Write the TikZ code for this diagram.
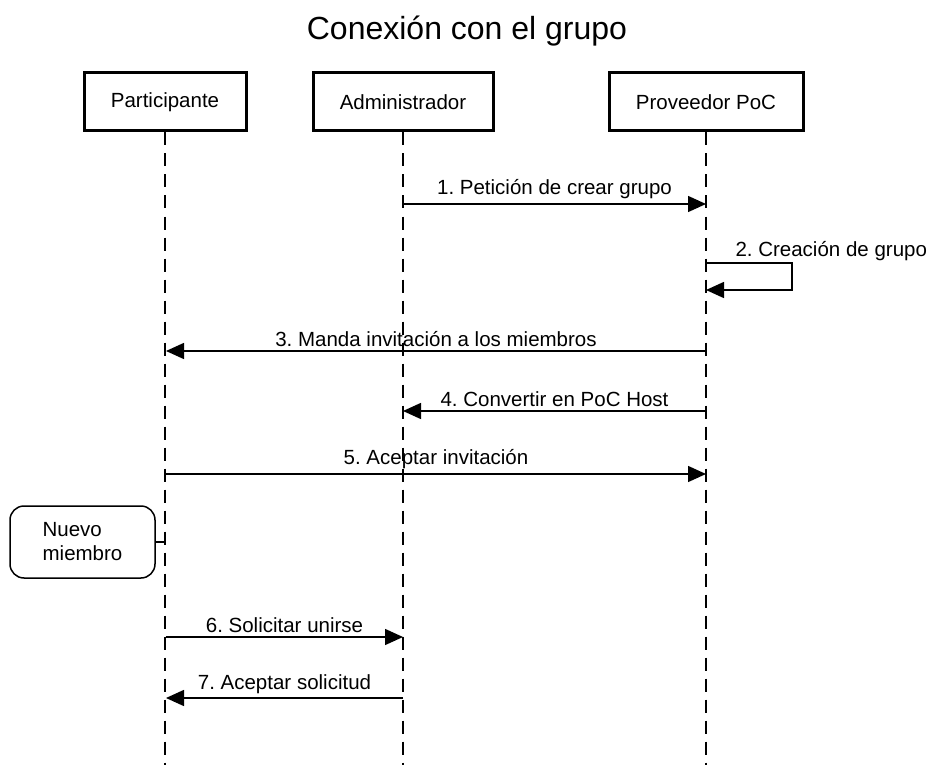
\documentclass[tikz,border=0pt]{standalone}
\usepackage{fontspec}
\setmainfont{Liberation Sans}
\usetikzlibrary{arrows.meta}
\frenchspacing
\begin{document}
\begin{tikzpicture}[x=1pt, y=-1pt, font=\fontsize{20.5}{24}\selectfont,
		actor/.style={draw, line width=3pt, minimum height=58pt, inner sep=0pt},
		life/.style={line width=1.5pt, dash pattern=on 13pt off 8pt},
		msg/.style={line width=1.5pt, -{Triangle[length=18pt,width=16pt]}},
		lbl/.style={above, inner sep=4pt}]
		\useasboundingbox (0,0) rectangle (935,765);
		%title
		\node (title) at (467,31) {\fontsize{32}{38}\selectfont Conexión con el grupo};
		
		%actors and lifelines
		\node[actor, minimum width=162pt] (part) at (165,102) {Participante};
		\node[actor, minimum width=180pt] (admin) at (403,102) {Administrador};
		\node[actor, minimum width=194pt] (poc) at (706,102) {Proveedor PoC};
		\foreach \a in {part, admin, poc}{
			\coordinate (\a-end) at (\a.south |- 0,765);
			\draw[life] (\a.south) -- (\a-end);
		}
		
		%points on the lifelines
		\foreach \n/\y in {1/204, 2/263, 3/351, 4/411, 5/474, 6/637, 7/698}{
			\coordinate (p\n) at (166,\y);
			\coordinate (a\n) at (403,\y);
			\coordinate (c\n) at (706,\y);
		}
		\coordinate (c2b) at (706,290);
		
		%messages
		\draw[msg] (a1) -- node[lbl] (m1) {1. Petición de crear grupo} (c1);
		\draw[msg] (c2) -- ++(86,0) |- (c2b);
		\node[anchor=base west] (m2) at (732,256) {2. Creación de grupo};
		\draw[msg] (c3) -- node[lbl] (m3) {3. Manda invitación a los miembros} (p3);
		\draw[msg] (c4) -- node[lbl] (m4) {4. Convertir en PoC Host} (a4);
		\draw[msg] (p5) -- node[lbl] (m5) {5. Aceptar invitación} (c5);
		
		%note
		\node[draw, line width=1.5pt, rounded corners=14pt, minimum width=145pt, minimum height=72pt, align=left] (note) at (82.5,542) {Nuevo\\miembro};
		\coordinate (pn) at (166,542);
		\draw[line width=1.5pt] (note.east) -- (pn);
		
		\draw[msg] (p6) -- node[lbl] (m6) {6. Solicitar unirse} (a6);
		\draw[msg] (a7) -- node[lbl] (m7) {7. Aceptar solicitud} (p7);
\end{tikzpicture}
\end{document}
